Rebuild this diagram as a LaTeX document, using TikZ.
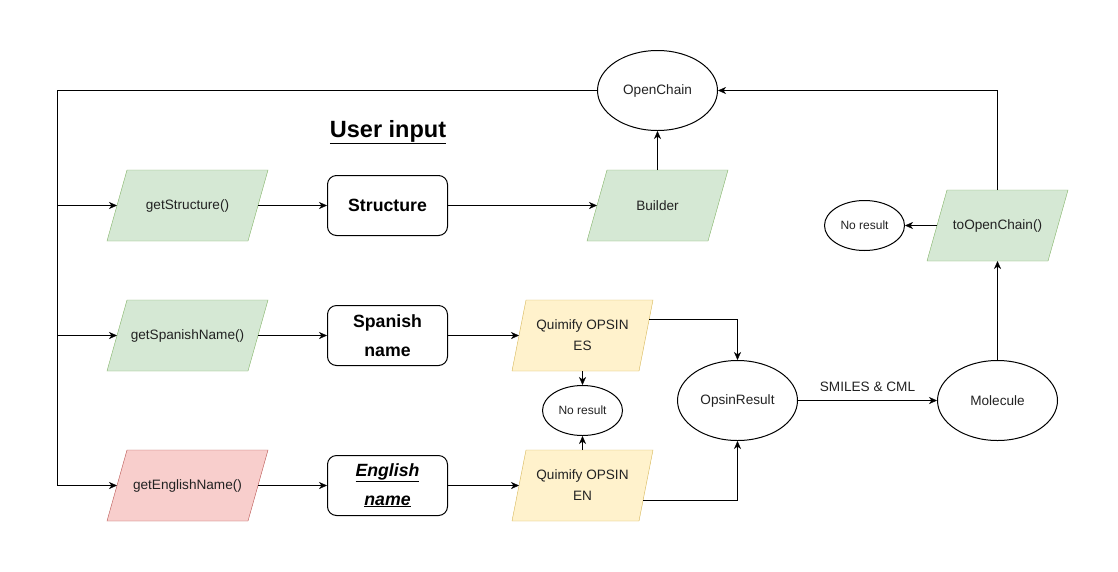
\documentclass[tikz,border=0pt]{standalone}
\usepackage{fontspec}
\setmainfont{Liberation Sans}
\usetikzlibrary{shapes.geometric,arrows.meta,calc}
\definecolor{gfill}{HTML}{D5E8D4}
\definecolor{gline}{HTML}{82B366}
\definecolor{yfill}{HTML}{FFF2CC}
\definecolor{yline}{HTML}{D6B656}
\definecolor{rfill}{HTML}{F8CECC}
\definecolor{rline}{HTML}{B85450}
\definecolor{txt}{HTML}{222222}
\pgfdeclarelayer{background}
\pgfsetlayers{background,main}
\newcommand\parashape[3]{%
  \begin{pgfonlayer}{background}
    \draw[#3] ([xshift=#2]#1.north west) -- ([xshift=#2]#1.north east)
      -- ([xshift=-#2]#1.south east) -- ([xshift=-#2]#1.south west) -- cycle;
  \end{pgfonlayer}}
\begin{document}
\begin{tikzpicture}[x=1pt,y=-1pt,line width=1pt,
  arr/.style={-{Stealth[length=8pt,width=7pt,inset=2.5pt]}},
  lbl/.style={font=\fontsize{13.6}{22}\selectfont,text=txt,align=center},
  parawide/.style={rectangle,minimum width=140pt,minimum height=70pt,inner sep=1pt,lbl},
  paranarrow/.style={rectangle,minimum width=120pt,minimum height=70pt,inner sep=1pt,lbl},
  parayel/.style={rectangle,minimum width=126pt,minimum height=70pt,inner sep=1pt,lbl},
  green/.style={draw=gline,fill=gfill},
  red/.style={draw=rline,fill=rfill},
  yellow/.style={draw=yline,fill=yfill},
  databox/.style={draw,rectangle,rounded corners=9pt,minimum width=120pt,minimum height=60pt,inner sep=1pt,align=center,font=\fontsize{17.7}{28.5}\selectfont\bfseries},
  bigell/.style={draw,ellipse,minimum width=120pt,minimum height=80pt,inner sep=0pt,lbl},
  smallell/.style={draw,ellipse,minimum width=80pt,minimum height=50pt,inner sep=0pt,font=\fontsize{12}{14}\selectfont,text=txt}
]
\useasboundingbox (0,0) rectangle (1118,571);

% nodes
\node[parawide] (gs) at (187.5,205.5) {\raisebox{-1pt}{getStructure()}};
\node[parawide] (gsp) at (187.5,335.5) {\raisebox{-1pt}{getSpanishName()}};
\node[parawide] (gen) at (187.5,485.5) {\raisebox{-1pt}{getEnglishName()}};
\node[databox] (struct) at (387.5,205.5) {\raisebox{-1.5pt}{Structure}};
\node[databox] (spn) at (387.5,335.5) {\raisebox{-2pt}{Spanish}\\\raisebox{-2pt}{name}};
\node[databox] (enn) at (387.5,485.5) {\raisebox{-2pt}{\textit{\underline{English}}}\\\raisebox{-2pt}{\textit{\underline{name}}}};
\node[paranarrow] (builder) at (657.5,205.5) {\raisebox{-1pt}{Builder}};
\node[parayel] (es) at (582.5,335.5) {\raisebox{-1pt}{Quimify OPSIN}\\ES};
\node[parayel] (en) at (582.5,485.5) {\raisebox{-1pt}{Quimify OPSIN}\\EN};
\node[smallell] (nr1) at (582.5,410.5) {No result};
\node[bigell] (openchain) at (657.5,90.5) {\raisebox{-1pt}{OpenChain}};
\node[bigell] (opsin) at (737.5,400.5) {\raisebox{-1pt}{OpsinResult}};
\node[bigell] (molecule) at (997.5,400.5) {\raisebox{-1pt}{Molecule}};
\node[paranarrow] (tooc) at (997.5,225.5) {\raisebox{-1pt}{toOpenChain()}};
\node[smallell] (nr2) at (864.5,225.5) {No result};
\node[font=\fontsize{23.5}{26}\selectfont\bfseries] (user) at (388,132) {\underline{User input}};

% parallelogram outlines
\parashape{gs}{10pt}{green}
\parashape{gsp}{10pt}{green}
\parashape{gen}{10pt}{red}
\parashape{builder}{10pt}{green}
\parashape{tooc}{10pt}{green}
\parashape{es}{7pt}{yellow}
\parashape{en}{7pt}{yellow}

% bus coordinates
\coordinate (busTop) at (57.5,90.5);
\coordinate (bus1) at (57.5,205.5);
\coordinate (bus2) at (57.5,335.5);
\coordinate (bus3) at (57.5,485.5);
\coordinate (esOut) at ($([xshift=7pt]es.north east)!0.2714!([xshift=-7pt]es.south east)$);
\coordinate (enOut) at ($([xshift=7pt]en.north east)!0.7!([xshift=-7pt]en.south east)$);

% connectors
\draw[arr] (openchain.west) -- (busTop) -- (bus3) -- (gen.west);
\draw[arr] (bus1) -- (gs.west);
\draw[arr] (bus2) -- (gsp.west);
\draw[arr] (gs.east) -- (struct.west);
\draw[arr] (gsp.east) -- (spn.west);
\draw[arr] (gen.east) -- (enn.west);
\draw[arr] (struct.east) -- (builder.west);
\draw[arr] (spn.east) -- (es.west);
\draw[arr] (enn.east) -- (en.west);
\draw[arr] (builder.north) -- (openchain.south);
\draw[arr] (es.south) -- (nr1.north);
\draw[arr] (en.north) -- (nr1.south);
\draw[arr] (esOut) -| (opsin.north);
\draw[arr] (enOut) -| (opsin.south);
\draw[arr] (opsin.east) -- node[above=5pt,lbl] {SMILES \& CML} (molecule.west);
\draw[arr] (molecule.north) -- (tooc.south);
\draw[arr] (tooc.west) -- (nr2.east);
\draw[arr] (tooc.north) |- (openchain.east);
\end{tikzpicture}
\end{document}
